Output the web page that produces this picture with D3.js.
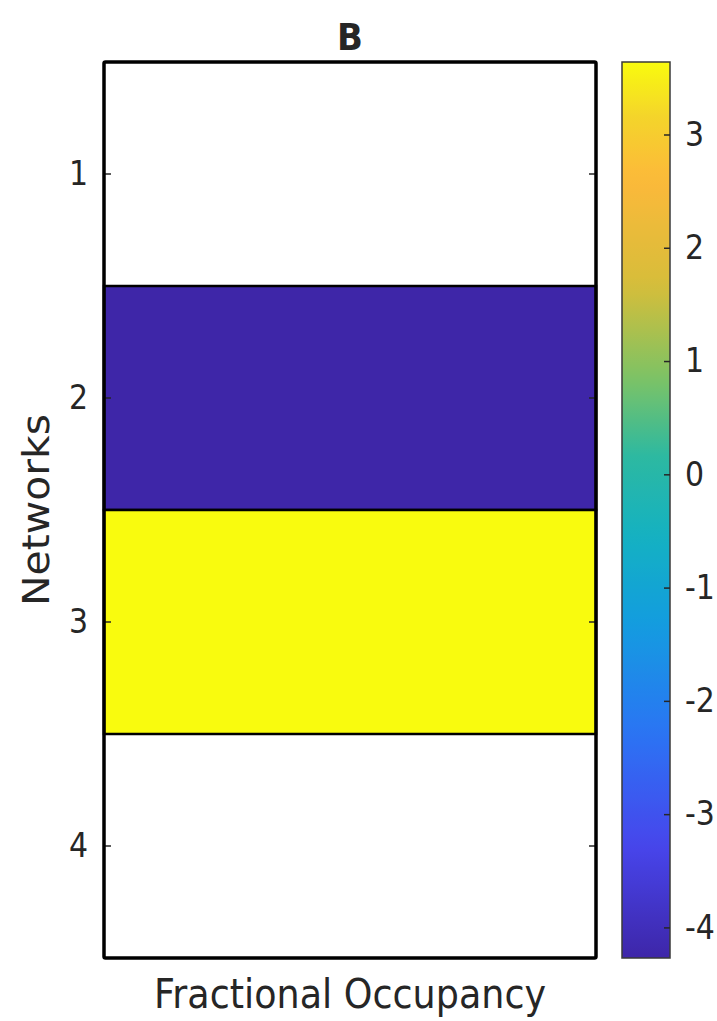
<!DOCTYPE html>
<html>
<head>
<meta charset="utf-8">
<script src="https://cdn.jsdelivr.net/npm/d3@7"></script>
<style>
  body { margin: 0; background: #fff; }
  text { font-family: "DejaVu Sans", sans-serif; fill: #262626; }
</style>
</head>
<body>
<svg id="chart" width="717" height="1021"></svg>
<script>
// Networks shown on the y axis and their fractional-occupancy score (null = no value, left blank)
const networks = [1, 2, 3, 4];
const occupancy = [null, -4.27, 3.64, null];
const colorTicks = [-4, -3, -2, -1, 0, 1, 2, 3];

// Parula colormap anchors (position along the map, colour)
const parulaPos = [0, 0.125, 0.25, 0.375, 0.47, 0.56, 0.65, 0.75, 0.87, 0.94, 1];
const parulaCol = ["#3e26a8", "#4745ec", "#2b74f4", "#139ddf", "#14b1c2", "#2db9a1",
                   "#7fc363", "#d6bd3a", "#fcb93a", "#f4d52a", "#f9fb0e"];

// Glyphs are drawn slightly taller than wide
const stretch = 1.12;

const svg = d3.select("#chart");
const margin = { left: 104, right: 596, top: 62, bottom: 958 };
const cbar = { x0: 622, x1: 670 };

const cells = networks.map((n, i) => ({ network: n, value: occupancy[i] }));
const ext = d3.extent(occupancy.filter(v => v !== null));

const y = d3.scaleBand().domain(networks).range([margin.top, margin.bottom]).padding(0);
const cScale = d3.scaleLinear().domain(ext).range([margin.bottom, margin.top]);
const parula = d3.scaleLinear().domain(parulaPos).range(parulaCol).interpolate(d3.interpolateRgb);
const colorOf = v => parula((v - ext[0]) / (ext[1] - ext[0]));

// Heatmap cells
svg.append("g").selectAll("rect")
  .data(cells.filter(d => d.value !== null))
  .join("rect")
  .attr("x", margin.left)
  .attr("y", d => y(d.network))
  .attr("width", margin.right - margin.left)
  .attr("height", y.bandwidth())
  .attr("fill", d => colorOf(d.value))
  .attr("stroke", "#000")
  .attr("stroke-width", 2.5);

// Y axis (ticks inside the box) on both sides
const yAxis = svg.append("g")
  .attr("transform", `translate(${margin.left},0)`)
  .call(d3.axisLeft(y).tickSize(-7).tickPadding(16));
yAxis.select(".domain").remove();
yAxis.selectAll("line").attr("stroke", "#262626").attr("stroke-width", 1.5);
yAxis.selectAll("text").style("font-size", "30px").attr("fill", "#262626")
  .attr("transform", `scale(1,${stretch})`);

const yAxisR = svg.append("g")
  .attr("transform", `translate(${margin.right},0)`)
  .call(d3.axisRight(y).tickSize(-7).tickFormat(""));
yAxisR.select(".domain").remove();
yAxisR.selectAll("line").attr("stroke", "#262626").attr("stroke-width", 1.5);

// Axes box
svg.append("rect")
  .attr("x", margin.left).attr("y", margin.top)
  .attr("width", margin.right - margin.left)
  .attr("height", margin.bottom - margin.top)
  .attr("fill", "none").attr("stroke", "#000").attr("stroke-width", 3.5)
  .attr("rx", 1.5);

// Colorbar
const grad = svg.append("defs").append("linearGradient")
  .attr("id", "parulaGrad").attr("x1", 0).attr("y1", 1).attr("x2", 0).attr("y2", 0);
grad.selectAll("stop").data(d3.range(0, 1.0001, 0.02)).join("stop")
  .attr("offset", d => d)
  .attr("stop-color", d => parula(d));

svg.append("rect")
  .attr("x", cbar.x0).attr("y", margin.top)
  .attr("width", cbar.x1 - cbar.x0).attr("height", margin.bottom - margin.top)
  .attr("fill", "url(#parulaGrad)")
  .attr("stroke", "#3a3a3a").attr("stroke-width", 1.5);

const cAxis = svg.append("g")
  .attr("transform", `translate(${cbar.x1},0)`)
  .call(d3.axisRight(cScale).tickValues(colorTicks).tickSize(-6).tickPadding(15)
        .tickFormat(d => String(d)));
cAxis.select(".domain").remove();
cAxis.selectAll("line").attr("stroke", "#262626").attr("stroke-width", 1.5);
cAxis.selectAll("text").style("font-size", "30px").attr("fill", "#262626")
  .attr("transform", `scale(1,${stretch})`);

// Title and axis labels
const cx = (margin.left + margin.right) / 2;
svg.append("text")
  .attr("transform", `translate(${cx},50) scale(1,${stretch})`)
  .attr("text-anchor", "middle")
  .style("font-size", "34px").style("font-weight", "bold").attr("fill", "#000")
  .text("B");

svg.append("text")
  .attr("transform", `translate(${cx},1008) scale(1,${stretch})`)
  .attr("text-anchor", "middle")
  .style("font-size", "36.5px").attr("fill", "#333")
  .text("Fractional Occupancy");

svg.append("text")
  .attr("transform", `translate(49, ${(margin.top + margin.bottom) / 2}) rotate(-90) scale(${stretch},1)`)
  .attr("text-anchor", "middle")
  .style("font-size", "36.5px").attr("fill", "#333")
  .text("Networks");
</script>
</body>
</html>
